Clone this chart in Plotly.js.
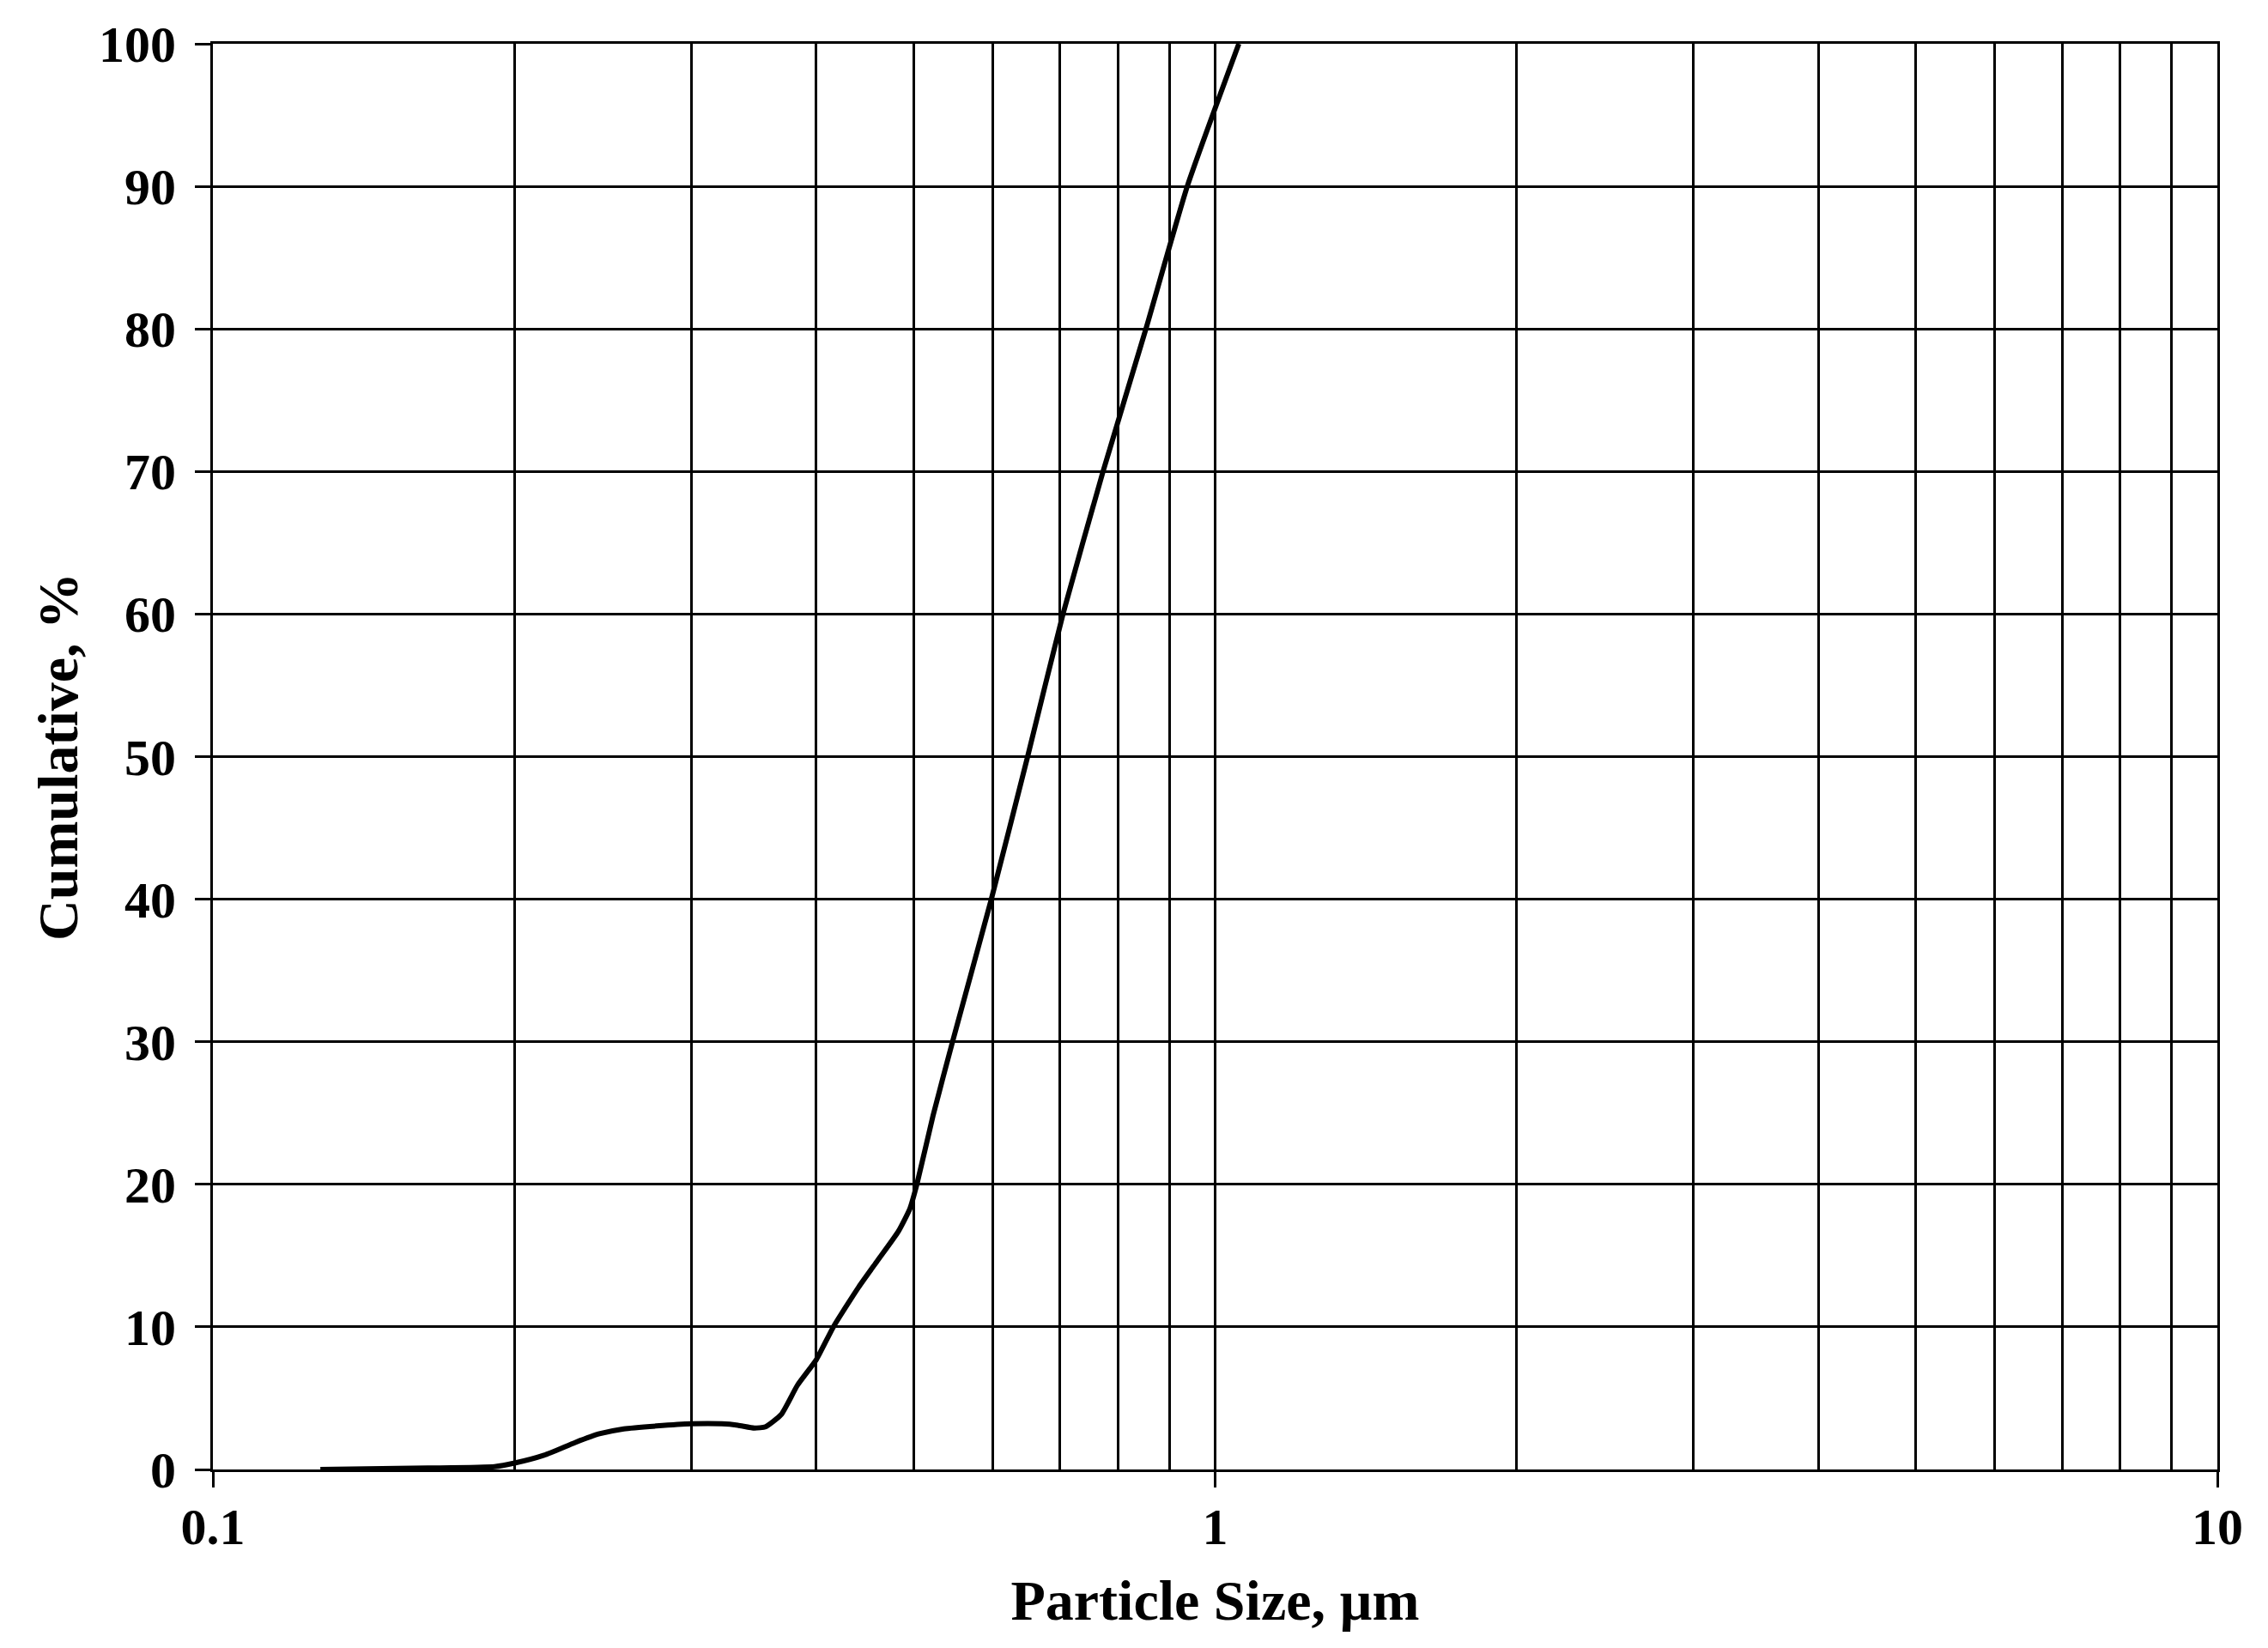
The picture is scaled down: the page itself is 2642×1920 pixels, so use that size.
<!DOCTYPE html>
<html>
<head>
<meta charset="utf-8">
<script src="https://cdn.plot.ly/plotly-3.0.1.min.js"></script>
<style>
  html, body { margin: 0; padding: 0; background: #fff; }
  #chart { width: 2642px; height: 1920px; }
</style>
</head>
<body>
<div id="chart"></div>
<script>
// Particle size (µm) and cumulative (%)
const particleSize = [0.128, 0.164, 0.191, 0.200, 0.214, 0.230, 0.243, 0.257, 0.277, 0.300, 0.322, 0.334, 0.347, 0.356, 0.369, 0.383, 0.400, 0.416, 0.441, 0.461, 0.483, 0.496, 0.504, 0.523, 0.547, 0.598, 0.650, 0.705, 0.773, 0.853, 0.938, 1.056];
const cumulative   = [0.0,   0.1,   0.2,   0.45,  1.0,   1.9,   2.5,   2.85,  3.05,  3.2,   3.2,   3.1,   2.9,   3.0,   3.85,  5.9,   7.7,   10.0,  12.8,  14.7,  16.7,  18.3,  20.0,  24.8,  30.0,  40.0,  50.0,  60.0,  70.0,  80.0,  90.0,  100.0];

const xMajorTicks = [0.1, 1, 10];
const xMajorLabels = ['0.1', '1', '10'];
const xMinorTicks = [0.2, 0.3, 0.4, 0.5, 0.6, 0.7, 0.8, 0.9, 2, 3, 4, 5, 6, 7, 8, 9];
const yTicks = [0, 10, 20, 30, 40, 50, 60, 70, 80, 90, 100];

const xTitle = 'Particle Size, µm';
const yTitle = 'Cumulative, %';

const fontFamily = '"Liberation Serif", "Times New Roman", serif';

const trace = {
  x: particleSize,
  y: cumulative,
  type: 'scatter',
  mode: 'lines',
  line: { color: '#000', width: 6, shape: 'spline', smoothing: 0.5 },
  hoverinfo: 'skip'
};

const layout = {
  width: 2642,
  height: 1920,
  margin: { l: 248, r: 59, t: 51, b: 208 },
  paper_bgcolor: '#fff',
  plot_bgcolor: '#fff',
  showlegend: false,
  font: { family: fontFamily, color: '#000' },
  xaxis: {
    type: 'log',
    range: [-1, 1],
    tickmode: 'array',
    tickvals: xMajorTicks,
    ticktext: xMajorLabels,
    ticks: 'outside',
    ticklen: 18,
    tickwidth: 3,
    tickcolor: '#000',
    ticklabelstandoff: -6,
    tickfont: { family: fontFamily, size: 60, color: '#000', weight: 'bold' },
    showgrid: true,
    gridcolor: '#000',
    gridwidth: 3,
    minor: {
      tickmode: 'array',
      tickvals: xMinorTicks,
      ticks: '',
      showgrid: true,
      gridcolor: '#000',
      gridwidth: 3
    },
    showline: true,
    linecolor: '#000',
    linewidth: 3,
    mirror: true,
    zeroline: false,
    automargin: false,
    title: {
      text: xTitle,
      font: { family: fontFamily, size: 66, color: '#000', weight: 'bold' },
      standoff: 30
    }
  },
  yaxis: {
    range: [0, 100],
    tickmode: 'array',
    tickvals: yTicks,
    ticks: 'outside',
    ticklen: 18,
    tickwidth: 3,
    tickcolor: '#000',
    ticklabelstandoff: 10,
    tickfont: { family: fontFamily, size: 60, color: '#000', weight: 'bold' },
    showgrid: true,
    gridcolor: '#000',
    gridwidth: 3,
    showline: true,
    linecolor: '#000',
    linewidth: 3,
    mirror: true,
    zeroline: false,
    automargin: false,
    title: {
      text: yTitle,
      font: { family: fontFamily, size: 66, color: '#000', weight: 'bold' },
      standoff: 3
    }
  }
};

Plotly.newPlot('chart', [trace], layout, { staticPlot: true, displayModeBar: false });
</script>
</body>
</html>
